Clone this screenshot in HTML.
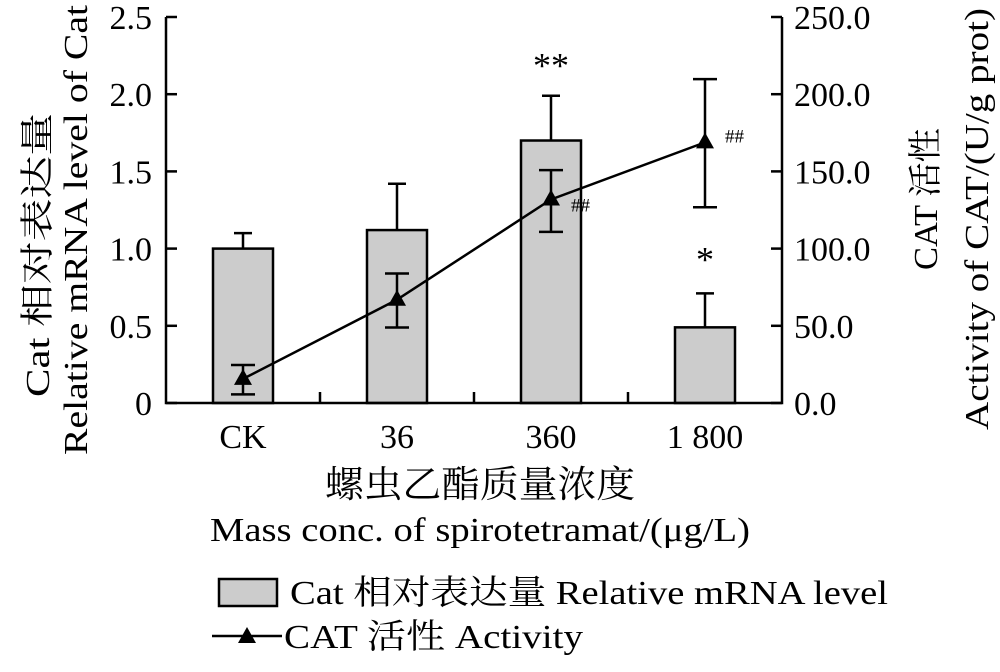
<!DOCTYPE html>
<html><head><meta charset="utf-8"><style>
body{margin:0;background:#fff;}
svg text{font-family:"Liberation Serif","Noto Serif CJK SC",serif;fill:#000;}
</style></head><body>
<svg id="chart" width="1000" height="667" viewBox="0 0 1000 667"></svg>
<script>
const categories=["CK","36","360","1 800"];
const barValues=[1.0,1.12,1.70,0.49];
const barErr=[0.10,0.30,0.29,0.22];
const lineValues=[15.6,66.9,131.8,168.8];
const lineErrUp=[9,17,19,41];
const lineErrDown=[10,18,21,42];
const leftTicks=[0,0.5,1.0,1.5,2.0,2.5];
const leftTickLabels=["0","0.5","1.0","1.5","2.0","2.5"];
const rightTicks=[0,50,100,150,200,250];
const rightTickLabels=["0.0","50.0","100.0","150.0","200.0","250.0"];
const barMarks=["","","**","*"];
const lineMarks=["","","##","##"];

const NS="http://www.w3.org/2000/svg";
const svg=document.getElementById('chart');
const X0=166,X1=782,Y0=403,Y1=17;
const band=(X1-X0)/categories.length;
const xc=i=>X0+band*(i+0.5);
const yL=v=>Y0-(v/2.5)*(Y0-Y1);
const yR=v=>Y0-(v/250)*(Y0-Y1);
function el(t,a,txt){const e=document.createElementNS(NS,t);for(const k in a)e.setAttribute(k,a[k]);if(txt!==undefined)e.textContent=txt;svg.appendChild(e);return e;}
const S={stroke:"#000","stroke-width":2.5,fill:"none"};

barValues.forEach((v,i)=>{
  const b=el('rect',{x:xc(i)-30,y:yL(v),width:60,height:Y0-yL(v),fill:"#cccccc",stroke:"#000","stroke-width":2.5});
  
  
  const e=el('path',Object.assign({d:`M${xc(i)},${yL(v)}V${yL(v+barErr[i])}M${xc(i)-9},${yL(v+barErr[i])}H${xc(i)+9}`},S));
  
  
  if(barMarks[i]){
    const yy=barMarks[i]==="**"?yL(v+barErr[i])-18:yL(v+barErr[i])-22;
    const t=el('text',{x:xc(i),y:yy,"text-anchor":"middle","font-size":36},barMarks[i]);
    
    }
});
const ax=el('path',Object.assign({d:`M${X0},${Y1}V${Y0}H${X1}V${Y1}`},S));


leftTicks.forEach((v,i)=>{
  el('path',Object.assign({d:`M${X0},${yL(v)}h11`},S));
  const t=el('text',{x:X0-14,y:yL(v)+12,"text-anchor":"end","font-size":34},leftTickLabels[i]);
  
  
});
rightTicks.forEach((v,i)=>{
  el('path',Object.assign({d:`M${X1},${yR(v)}h-11`},S));
  const t=el('text',{x:X1+12,y:yR(v)+12,"text-anchor":"start","font-size":34},rightTickLabels[i]);
  
  
});
categories.forEach((c,i)=>{
  if(i>0) el('path',Object.assign({d:`M${X0+band*i},${Y0}v-11`},S));
  const t=el('text',{x:xc(i),y:448,"text-anchor":"middle","font-size":34},c);
  
  
});
const ln=el('polyline',{points:lineValues.map((v,i)=>xc(i)+","+yR(v)).join(" "),fill:"none",stroke:"#000","stroke-width":2.5});


lineValues.forEach((v,i)=>{
  const x=xc(i),t=yR(v+lineErrUp[i]),b=yR(v-lineErrDown[i]);
  el('path',Object.assign({d:`M${x},${t}V${b}M${x-12},${t}h24M${x-12},${b}h24`},S));
  const m=el('path',{d:`M${x},${yR(v)-10}L${x+9},${yR(v)+6}L${x-9},${yR(v)+6}Z`,fill:"#000"});
  
  
  if(lineMarks[i]){const s=el('text',{x:x+20,y:yR(v)+(i===2?12:0),"font-size":19},lineMarks[i]);
    
    }
});
</script>
<svg style="position:absolute;left:0;top:0" width="1000" height="667">
<text transform="translate(49,397) rotate(-90)" font-size="34" textLength="284" lengthAdjust="spacingAndGlyphs">Cat 相对表达量</text>
<text transform="translate(87,455) rotate(-90)" font-size="34" textLength="450" lengthAdjust="spacingAndGlyphs">Relative mRNA level of Cat</text>
<text transform="translate(937,270) rotate(-90)" font-size="34" textLength="142" lengthAdjust="spacingAndGlyphs">CAT 活性</text>
<text transform="translate(988,430) rotate(-90)" font-size="34" textLength="422" lengthAdjust="spacingAndGlyphs">Activity of CAT/(U/g prot)</text>
<text x="325" y="497" font-size="37" textLength="310" lengthAdjust="spacingAndGlyphs">螺虫乙酯质量浓度</text>
<text x="210" y="541" font-size="34" textLength="540" lengthAdjust="spacingAndGlyphs">Mass conc. of spirotetramat/(μg/L)</text>
<rect x="219" y="579" width="58" height="27" fill="#ccc" stroke="#000" stroke-width="2.5"/>
<text x="290" y="604" font-size="34" textLength="598" lengthAdjust="spacingAndGlyphs">Cat 相对表达量 Relative mRNA level</text>
<path d="M212,636H282" stroke="#000" stroke-width="2.5"/>
<path d="M247,627L256,643L238,643Z" fill="#000"/>
<text x="284" y="648" font-size="34" textLength="299" lengthAdjust="spacingAndGlyphs">CAT 活性 Activity</text>
</svg>
</body></html>
